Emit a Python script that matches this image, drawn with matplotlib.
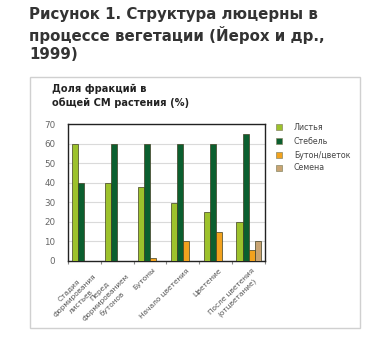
import numpy as np
from matplotlib import pyplot as plt
from matplotlib.patches import Rectangle

stages = ["Стадия\nформирования\nлистьев", "Перед\nформированием\nбутонов", "Бутоны",
          "Начало цветения", "Цветение", "После цветения\n(отцветание)"]
leaves = [60, 40, 38, 29.5, 25, 20]
stem = [40, 60, 60, 60, 60, 65]
buds = [0, 0, 1.5, 10, 15, 5.5]
seeds = [0, 0, 0, 0, 0, 10]
series_names = ["Листья", "Стебель", "Бутон/цветок", "Семена"]
colors = ["#9dc22c", "#0b5f2f", "#f2a21e", "#c9a472"]
yticks = [0, 10, 20, 30, 40, 50, 60, 70]

W, H = 384, 339
fig = plt.figure(figsize=(W / 100, H / 100), dpi=100)
fig.patch.set_facecolor("white")

def fx(px): return px / W
def fy(py): return 1 - py / H

# title
fig.text(fx(29), fy(7), "Рисунок 1. Структура люцерны в\nпроцессе вегетации (Йерох и др.,\n1999)",
         ha="left", va="top", fontsize=10.8, fontweight="bold", color="#333333", linespacing=1.25)

# frame box
fig.patches.append(Rectangle((fx(30), fy(328)), fx(360) - fx(30), fy(77) - fy(328),
                             transform=fig.transFigure, fill=False, ec="#d0d0d0", lw=1))

fig.text(fx(52), fy(84), "Доля фракций в\nобщей СМ растения (%)", ha="left", va="top",
         fontsize=7.1, fontweight="bold", color="#222222", linespacing=1.35)

ax = fig.add_axes([fx(68), fy(261), fx(265) - fx(68), fy(124) - fy(261)])
data = [leaves, stem, buds, seeds]
x = np.arange(len(stages))
bw = 0.185
for i, vals in enumerate(data):
    ax.bar(x - 1.5 * bw + i * bw, vals, bw, color=colors[i], edgecolor="#3f3f22", lw=0.5,
           label=series_names[i], zorder=3)

ax.set_xlim(-0.5, len(stages) - 0.5)
ax.set_ylim(0, 70)
ax.set_yticks(yticks)
ax.yaxis.grid(True, color="#dadada", lw=0.8, zorder=0)
ax.tick_params(axis="y", labelsize=6.3, colors="#666666", length=0, pad=9)
ax.set_xticks(np.arange(len(stages) + 1) - 0.5)
ax.set_xticklabels([])
ax.tick_params(axis="x", length=2, color="#888888", direction="out")
for s in ax.spines.values():
    s.set_color("#222222")
    s.set_linewidth(1)

for i, lab in enumerate(stages):
    ax.text(i + 0.08, -3.0, lab, rotation=45, ha="right", va="top", rotation_mode="anchor",
            fontsize=5.3, color="#555555", multialignment="center", linespacing=1.5)

# legend
leg_y = [127, 141, 155, 168]
for i, name in enumerate(series_names):
    fig.patches.append(Rectangle((fx(276), fy(leg_y[i] + 3)), fx(6), fy(0) - fy(6),
                                 transform=fig.transFigure, fc=colors[i], ec="#888866", lw=0.5))
    fig.text(fx(294), fy(leg_y[i]), name, ha="left", va="center", fontsize=5.7, color="#444444")

fig.savefig("out.png", dpi=100)
